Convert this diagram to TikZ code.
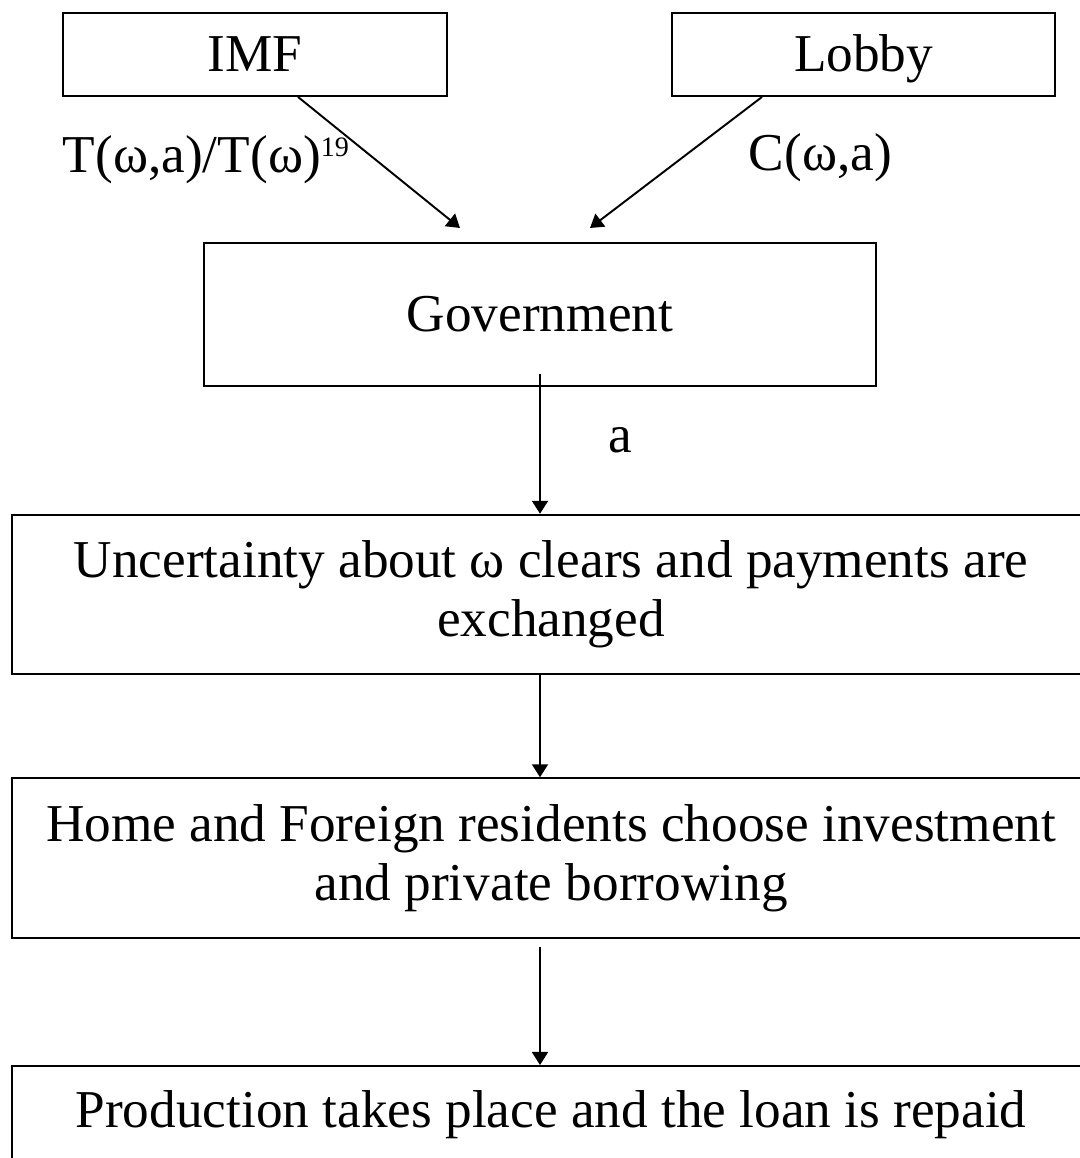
\documentclass[tikz,border=0pt]{standalone}
\usepackage{fontspec}
\setmainfont{Liberation Serif}
\usetikzlibrary{arrows.meta,positioning,calc}

\begin{document}
\begin{tikzpicture}[font=\fontsize{30.3}{33.5}\selectfont,>={Triangle[length=2.6mm,width=3.2mm]},
  line width=1.1pt,
  actor/.style={draw,minimum width=7.67cm,minimum height=1.66cm,inner sep=0pt,text height=0.8cm,text depth=0.12cm},
  stage/.style={draw,minimum width=21.56cm,minimum height=3.19cm,align=center,inner sep=0pt},
  lbl/.style={inner sep=0pt}]
\useasboundingbox (0,0) rectangle (21.58,23.16);
% who moves first
\node[actor] (imf) at (5.1,22.07) {IMF};
\node[actor] (lobby) at (17.27,22.07) {Lobby};
\node[draw,minimum width=13.44cm,minimum height=2.86cm,inner sep=0pt] (gov) at (10.8,16.87) {Government};
% then the timeline
\node[stage] (clear) at (11.02,11.27) {Uncertainty about ω clears and payments are\\exchanged};
\node[stage] (choose) at (11.02,6.0) {Home and Foreign residents choose investment\\and private borrowing};
\node[draw,anchor=north,minimum width=21.56cm,text height=1.24cm,text depth=1cm,inner sep=0pt]
  (prod) at (11.02,1.86) {Production takes place and the loan is repaid};
\coordinate (imfto) at (9.2,18.6);
\coordinate (lobbyto) at (11.8,18.6);
\draw[->] ($(imf.south)+(0.86,0)$) -- (imfto);
\draw[->] ($(lobby.south)+(-2.03,0)$) -- (lobbyto);
\draw[->] ($(gov.south)+(0,0.26)$) -- (clear.north -| gov);
\draw[->] (clear.south -| gov) -- (choose.north -| gov);
\draw[->] ($(choose.south -| gov)+(0,-0.16)$) -- (prod.north -| gov);
\node[lbl,anchor=west] (tlab) at (1.24,19.96) {T(ω,a)/T(ω)\textsuperscript{\fontsize{16}{16}\selectfont 19}};
\node[lbl,anchor=west] (clab) at (14.96,20.0) {C(ω,a)};
\node[lbl] (alab) at (12.4,14.36) {a};
\end{tikzpicture}
\end{document}
